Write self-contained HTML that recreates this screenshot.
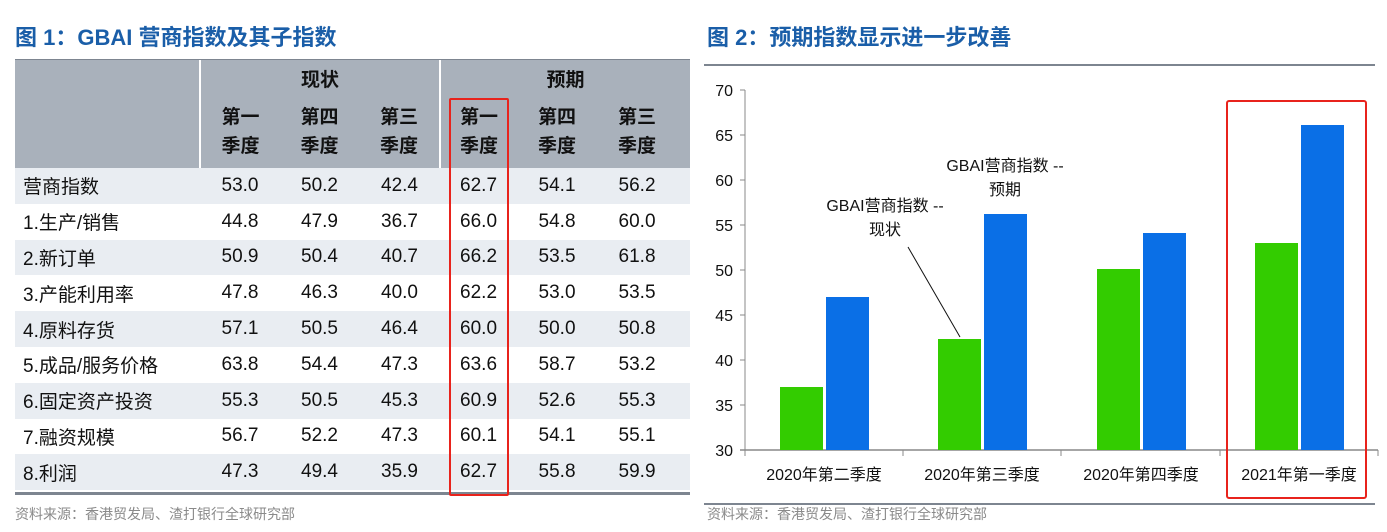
<!DOCTYPE html>
<html><head><meta charset="utf-8"><style>
body{margin:0;width:1387px;height:532px;background:#fff;position:relative;font-family:"Liberation Sans","Noto Sans CJK SC",sans-serif;overflow:hidden}
.t{position:absolute;white-space:nowrap}
.title{font-size:22px;font-weight:bold;color:#1a5ea8;top:20px}
.foot{font-size:14px;color:#8a8a8a;top:504px}
table{position:absolute;left:15px;top:60px;width:675px;border-collapse:collapse;font-size:19px;color:#111;table-layout:fixed}
td{padding:0;text-align:center;height:35.8px}
td:first-child{text-align:left;padding-left:8px}
tr.h td{background:#a9b1bb;font-weight:bold;height:auto}
tr.l td{background:#e9edf2}
</style></head><body>
<div class="t title" style="left:15px">图 1：GBAI 营商指数及其子指数</div>
<div class="t title" style="left:707px">图 2：预期指数显示进一步改善</div>
<div style="position:absolute;left:15px;top:59px;width:675px;height:2px;background:#7d8590"></div>
<table>
<colgroup><col style="width:185px"><col style="width:80px"><col style="width:79px"><col style="width:81px"><col style="width:77px"><col style="width:80px"><col style="width:80px"><col style="width:13px"></colgroup>
<tr class="h"><td style="height:36px"></td><td colspan="3" style="border-left:2px solid #fff;border-right:2px solid #fff">现状</td><td colspan="4">预期</td></tr>
<tr class="h"><td style="height:72px;line-height:29px"></td><td style="border-left:2px solid #fff;line-height:29px">第一<br>季度</td><td style="line-height:29px">第四<br>季度</td><td style="border-right:2px solid #fff;line-height:29px">第三<br>季度</td><td style="line-height:29px">第一<br>季度</td><td style="line-height:29px">第四<br>季度</td><td style="line-height:29px">第三<br>季度</td><td></td></tr>
<tr class="l"><td>营商指数</td><td>53.0</td><td>50.2</td><td>42.4</td><td>62.7</td><td>54.1</td><td>56.2</td><td></td></tr>
<tr><td>1.生产/销售</td><td>44.8</td><td>47.9</td><td>36.7</td><td>66.0</td><td>54.8</td><td>60.0</td><td></td></tr>
<tr class="l"><td>2.新订单</td><td>50.9</td><td>50.4</td><td>40.7</td><td>66.2</td><td>53.5</td><td>61.8</td><td></td></tr>
<tr><td>3.产能利用率</td><td>47.8</td><td>46.3</td><td>40.0</td><td>62.2</td><td>53.0</td><td>53.5</td><td></td></tr>
<tr class="l"><td>4.原料存货</td><td>57.1</td><td>50.5</td><td>46.4</td><td>60.0</td><td>50.0</td><td>50.8</td><td></td></tr>
<tr><td>5.成品/服务价格</td><td>63.8</td><td>54.4</td><td>47.3</td><td>63.6</td><td>58.7</td><td>53.2</td><td></td></tr>
<tr class="l"><td>6.固定资产投资</td><td>55.3</td><td>50.5</td><td>45.3</td><td>60.9</td><td>52.6</td><td>55.3</td><td></td></tr>
<tr><td>7.融资规模</td><td>56.7</td><td>52.2</td><td>47.3</td><td>60.1</td><td>54.1</td><td>55.1</td><td></td></tr>
<tr class="l"><td>8.利润</td><td>47.3</td><td>49.4</td><td>35.9</td><td>62.7</td><td>55.8</td><td>59.9</td><td></td></tr>
</table>
<div style="position:absolute;left:15px;top:492px;width:675px;height:3px;background:#7d8590"></div>
<div style="position:absolute;left:449px;top:98px;width:56px;height:394px;border:2px solid #e8231c;border-radius:2px"></div>
<div class="t foot" style="left:15px">资料来源：香港贸发局、渣打银行全球研究部</div>

<svg style="position:absolute;left:0;top:0" width="1387" height="532">
<rect x="704" y="64" width="671" height="2" fill="#7d8590"/>
<rect x="704" y="503" width="671" height="2" fill="#7d8590"/>
<g font-family="Liberation Sans,Noto Sans CJK SC,sans-serif" font-size="16" fill="#111">
<g text-anchor="end">
<text x="733" y="96">70</text><text x="733" y="141">65</text><text x="733" y="186">60</text><text x="733" y="231">55</text><text x="733" y="276">50</text><text x="733" y="321">45</text><text x="733" y="366">40</text><text x="733" y="411">35</text><text x="733" y="456">30</text>
</g>
<line x1="745" y1="90" x2="745" y2="456" stroke="#888"/>
<line x1="740" y1="450" x2="1378" y2="450" stroke="#888" stroke-width="1.5"/>
<g stroke="#888"><line x1="740" y1="90" x2="745" y2="90"/><line x1="740" y1="135" x2="745" y2="135"/><line x1="740" y1="180" x2="745" y2="180"/><line x1="740" y1="225" x2="745" y2="225"/><line x1="740" y1="270" x2="745" y2="270"/><line x1="740" y1="315" x2="745" y2="315"/><line x1="740" y1="360" x2="745" y2="360"/><line x1="740" y1="405" x2="745" y2="405"/>
<line x1="903" y1="450" x2="903" y2="456"/><line x1="1061" y1="450" x2="1061" y2="456"/><line x1="1220" y1="450" x2="1220" y2="456"/><line x1="1378" y1="450" x2="1378" y2="456"/></g>
<g fill="#33cc00">
<rect x="780" y="387" width="43" height="63"/><rect x="938" y="339" width="43" height="111"/><rect x="1097" y="269" width="43" height="181"/><rect x="1255" y="243" width="43" height="207"/>
</g>
<g fill="#0a6fe6">
<rect x="826" y="297" width="43" height="153"/><rect x="984" y="214" width="43" height="236"/><rect x="1143" y="233" width="43" height="217"/><rect x="1301" y="125" width="43" height="325"/>
</g>
<g text-anchor="middle">
<text x="824" y="480">2020年第二季度</text><text x="982" y="480">2020年第三季度</text><text x="1141" y="480">2020年第四季度</text><text x="1299" y="480">2021年第一季度</text>
<text x="885" y="211">GBAI营商指数 --</text><text x="885" y="235">现状</text>
<text x="1005" y="171">GBAI营商指数 --</text><text x="1005" y="195">预期</text>
</g>
<line x1="908" y1="247" x2="960" y2="337" stroke="#111"/>
</g>
<rect x="1227" y="101" width="139" height="397" rx="2" fill="none" stroke="#e8231c" stroke-width="2"/>
</svg>
<div class="t foot" style="left:707px">资料来源：香港贸发局、渣打银行全球研究部</div>
</body></html>
